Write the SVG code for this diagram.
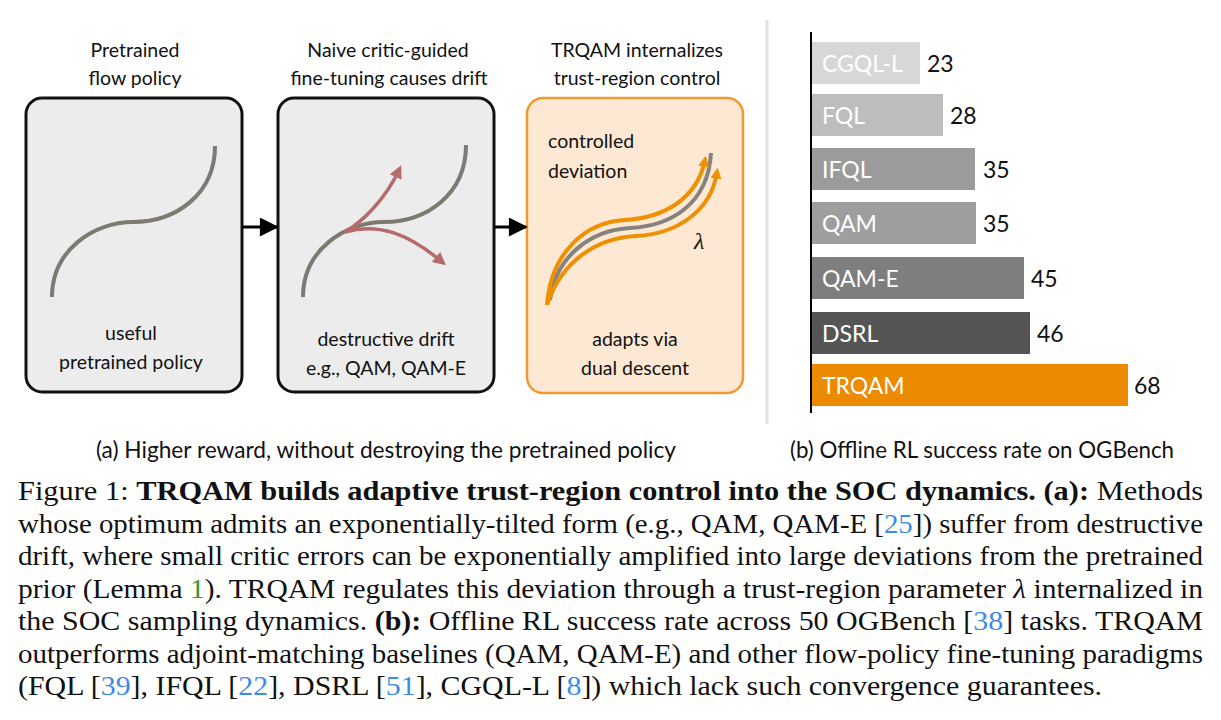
<svg xmlns="http://www.w3.org/2000/svg" width="1221" height="720" viewBox="0 0 1221 720">
  <style>
    .sans { font-family: Lato, "Open Sans", "Noto Sans", sans-serif; fill: #111; }
    .title { font-size: 19.5px; text-anchor: middle; }
    .inner { font-size: 19.5px; }
    .mid { text-anchor: middle; }
    .barlbl { font-family: Lato, "Open Sans", sans-serif; font-size: 23px; fill: #fff; }
    .val { font-family: Lato, "Open Sans", sans-serif; font-size: 23px; fill: #111; }
    .sub { font-family: Lato, "Open Sans", sans-serif; font-size: 22.5px; fill: #111; }
    .cap { font-family: "Liberation Serif", "Times New Roman", Times, serif; font-size: 28px; fill: #111; }
    .b { font-weight: bold; }
    .cite { fill: #3d8be8; }
    .ref { fill: #2e9a3a; }
    .box { fill: #ececec; stroke: #111; stroke-width: 3; }
    .box3 { fill: #fde8d3; stroke: #ee9a30; stroke-width: 2.5; }
    .flow { fill: none; stroke: #7d7a72; stroke-width: 4; }
    .red { fill: none; stroke: #b56b6b; stroke-width: 3.5; }
    .org { fill: none; stroke: #ee9000; stroke-width: 4; }
  </style>
  <defs>
    <marker id="arrBlack" viewBox="0 0 10 10" refX="9" refY="5" markerWidth="20" markerHeight="19" markerUnits="userSpaceOnUse" orient="auto">
      <path d="M0,0 L10,5 L0,10 z" fill="#000"/>
    </marker>
    <marker id="arrRed" viewBox="0 0 10 10" refX="6" refY="5" markerWidth="16" markerHeight="13" markerUnits="userSpaceOnUse" orient="auto">
      <path d="M0,0 L10,5 L0,10 z" fill="#b56b6b"/>
    </marker>
    <marker id="arrOrg" viewBox="0 0 10 10" refX="6" refY="5" markerWidth="13" markerHeight="11" markerUnits="userSpaceOnUse" orient="auto">
      <path d="M0,0 L10,5 L0,10 z" fill="#ee9000"/>
    </marker>
  </defs>

  <rect width="1221" height="720" fill="#fff"/>

  <!-- Panel (a) -->
  <g id="node-pretrained">
    <text class="sans title" x="135" y="57">Pretrained</text>
    <text class="sans title" x="135" y="85">flow policy</text>
    <rect class="box" x="26" y="98" width="216" height="294" rx="16"/>
    <path class="flow" d="M52,297 C52,250 94,222 133,222 C175,222 215,195 215,146"/>
    <text class="sans inner mid" x="131" y="340">useful</text>
    <text class="sans inner mid" x="131" y="369">pretrained policy</text>
  </g>

  <g id="node-naive">
    <text class="sans title" x="388" y="57">Naive critic-guided</text>
    <text class="sans title" x="389" y="85">fine-tuning causes drift</text>
    <rect class="box" x="278" y="98" width="216" height="294" rx="16"/>
    <path class="flow" d="M303,297 C303,250 345,222 384,222 C426,222 466,195 466,145"/>
    <path class="red" d="M345,232 C362,222 385,200 399,170" marker-end="url(#arrRed)"/>
    <path class="red" d="M345,232 C380,222 410,235 442,262" marker-end="url(#arrRed)"/>
    <text class="sans inner mid" x="386" y="346">destructive drift</text>
    <text class="sans inner mid" x="386" y="375">e.g., QAM, QAM-E</text>
  </g>

  <g id="node-trqam">
    <text class="sans title" x="637" y="57">TRQAM internalizes</text>
    <text class="sans title" x="637" y="85">trust-region control</text>
    <rect class="box3" x="527" y="98" width="216" height="295" rx="16"/>
    <text class="sans inner" x="548" y="148">controlled</text>
    <text class="sans inner" x="548" y="178">deviation</text>
    <path d="M550,300 C556,255 592,230 630,228 C670,226 708,205 711,153" fill="none" stroke="#858280" stroke-width="4"/>
    <path class="org" d="M547,305 C551,252 586,222 625,220 C662,218 697,200 705,160" marker-end="url(#arrOrg)"/>
    <path class="org" d="M547,305 C561,262 596,238 636,236 C676,234 711,212 717,172" marker-end="url(#arrOrg)"/>
    <text x="694" y="249" font-family="Liberation Serif, serif" font-style="italic" font-size="24" fill="#111">λ</text>
    <text class="sans inner mid" x="635" y="346">adapts via</text>
    <text class="sans inner mid" x="635" y="375">dual descent</text>
  </g>

  <g id="connectors">
    <line x1="242" y1="227" x2="277" y2="227" stroke="#000" stroke-width="3" marker-end="url(#arrBlack)"/>
    <line x1="494" y1="227" x2="526" y2="227" stroke="#000" stroke-width="3" marker-end="url(#arrBlack)"/>
  </g>

  <text class="sub" x="96" y="458" textLength="580" lengthAdjust="spacingAndGlyphs">(a) Higher reward, without destroying the pretrained policy</text>

  <!-- separator -->
  <line x1="767" y1="20" x2="767" y2="424" stroke="#e0e0e0" stroke-width="3"/>

  <!-- Panel (b): bar chart -->
  <g id="chart">
    <rect x="811" y="42" width="109" height="42" fill="#d7d7d7"/>
    <rect x="811" y="94" width="132" height="42" fill="#bdbdbd"/>
    <rect x="811" y="148" width="164" height="42" fill="#9b9b9b"/>
    <rect x="811" y="202" width="165" height="42" fill="#9e9e9e"/>
    <rect x="811" y="257" width="213" height="42" fill="#7e7e7e"/>
    <rect x="811" y="312" width="219" height="42" fill="#555555"/>
    <rect x="811" y="364" width="317" height="42" fill="#ec8a00"/>
    <line x1="811" y1="32" x2="811" y2="413" stroke="#000" stroke-width="2"/>
    <text class="barlbl" x="822" y="72">CGQL-L</text>
    <text class="barlbl" x="822" y="124">FQL</text>
    <text class="barlbl" x="822" y="178">IFQL</text>
    <text class="barlbl" x="822" y="232">QAM</text>
    <text class="barlbl" x="822" y="287">QAM-E</text>
    <text class="barlbl" x="822" y="342">DSRL</text>
    <text class="barlbl" x="822" y="394">TRQAM</text>
    <text class="val" x="927" y="72">23</text>
    <text class="val" x="950" y="124">28</text>
    <text class="val" x="983" y="178">35</text>
    <text class="val" x="983" y="232">35</text>
    <text class="val" x="1031" y="287">45</text>
    <text class="val" x="1037" y="342">46</text>
    <text class="val" x="1134" y="394">68</text>
  </g>

  <text class="sub" x="790" y="458" textLength="384" lengthAdjust="spacingAndGlyphs">(b) Offline RL success rate on OGBench</text>

  <!-- Caption -->
  <g id="caption">
    <text class="cap" x="18" y="500" textLength="1185" lengthAdjust="spacingAndGlyphs">Figure 1: <tspan class="b">TRQAM builds adaptive trust-region control into the SOC dynamics. (a):</tspan> Methods</text>
    <text class="cap" x="18" y="533" textLength="1185" lengthAdjust="spacingAndGlyphs">whose optimum admits an exponentially-tilted form (e.g., QAM, QAM-E [<tspan class="cite">25</tspan>]) suffer from destructive</text>
    <text class="cap" x="18" y="565" textLength="1185" lengthAdjust="spacingAndGlyphs">drift, where small critic errors can be exponentially amplified into large deviations from the pretrained</text>
    <text class="cap" x="18" y="598" textLength="1185" lengthAdjust="spacingAndGlyphs">prior (Lemma <tspan class="ref">1</tspan>). TRQAM regulates this deviation through a trust-region parameter <tspan font-style="italic">λ</tspan> internalized in</text>
    <text class="cap" x="18" y="630" textLength="1185" lengthAdjust="spacingAndGlyphs">the SOC sampling dynamics. <tspan class="b">(b):</tspan> Offline RL success rate across 50 OGBench [<tspan class="cite">38</tspan>] tasks. TRQAM</text>
    <text class="cap" x="18" y="663" textLength="1185" lengthAdjust="spacingAndGlyphs">outperforms adjoint-matching baselines (QAM, QAM-E) and other flow-policy fine-tuning paradigms</text>
    <text class="cap" x="18" y="695" textLength="1084" lengthAdjust="spacingAndGlyphs">(FQL [<tspan class="cite">39</tspan>], IFQL [<tspan class="cite">22</tspan>], DSRL [<tspan class="cite">51</tspan>], CGQL-L [<tspan class="cite">8</tspan>]) which lack such convergence guarantees.</text>
  </g>
</svg>
